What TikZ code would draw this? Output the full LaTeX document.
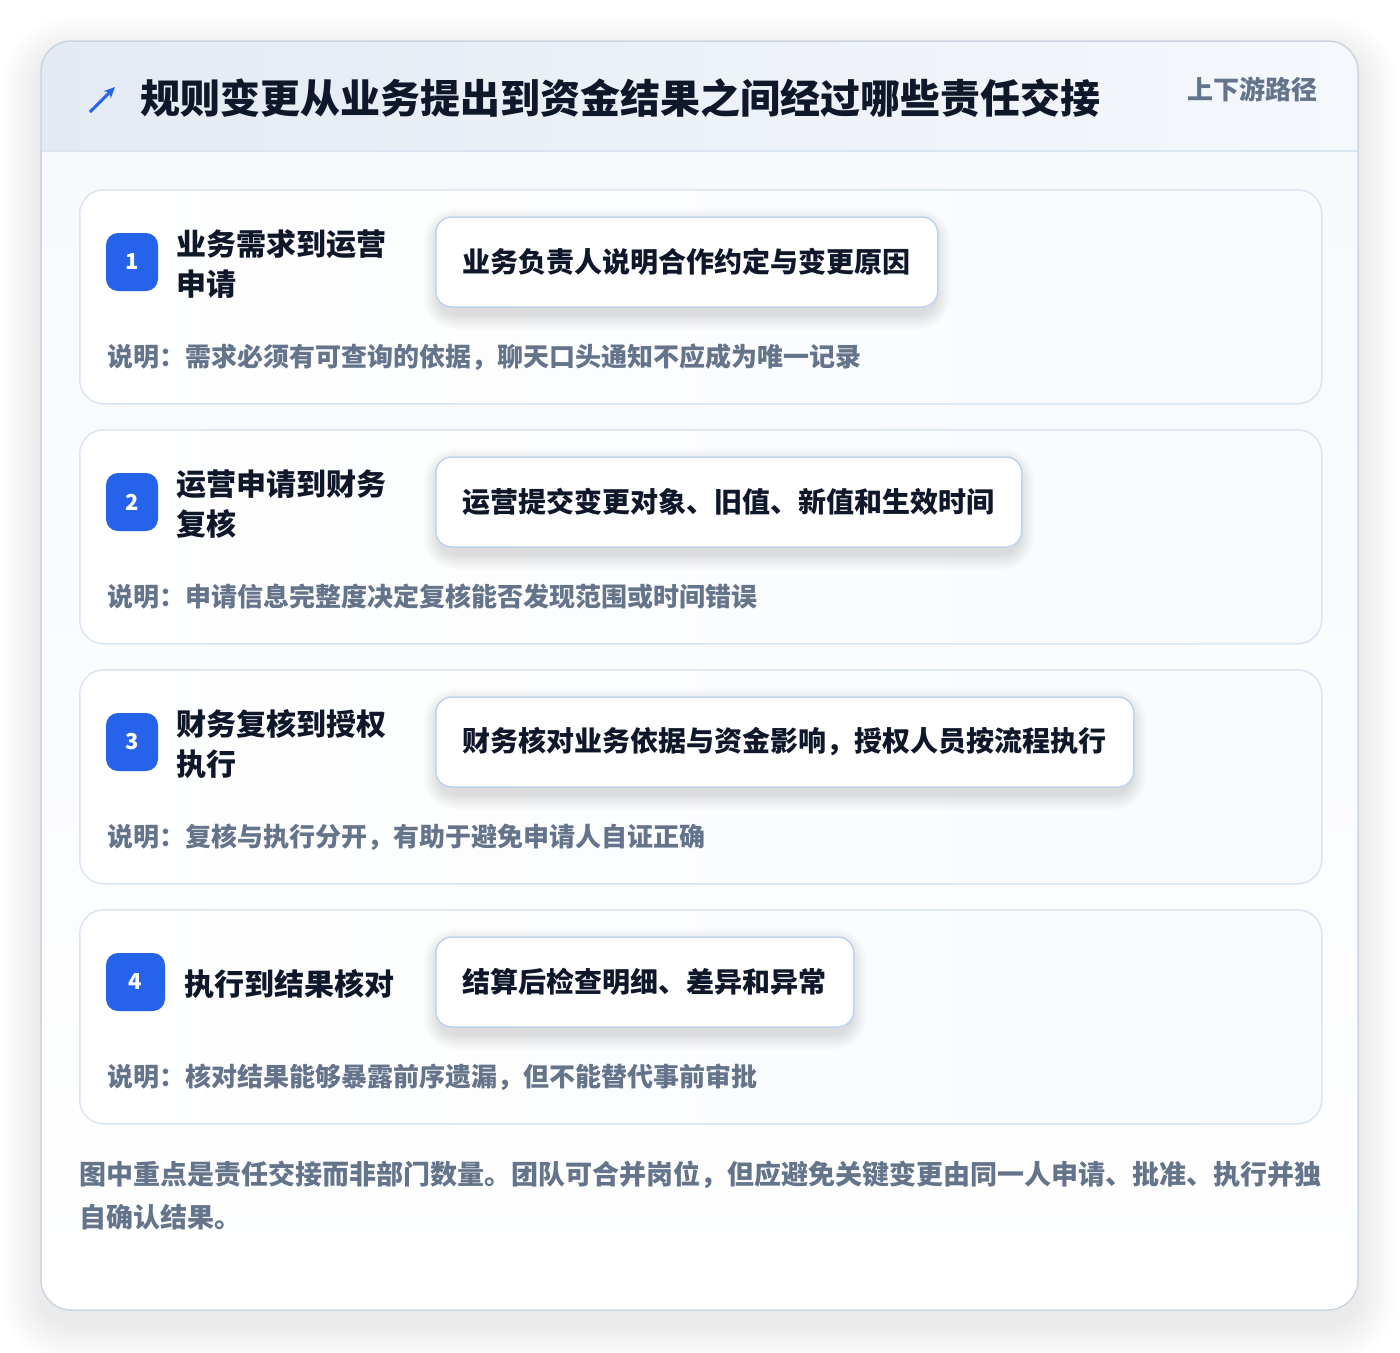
\documentclass[tikz,border=0pt]{standalone}
\usepackage{fontspec}
\setmainfont{Noto Sans CJK SC}
\usetikzlibrary{arrows.meta}
\pgfdeclarelayer{bg}
\pgfdeclarelayer{shad}
\pgfsetlayers{bg,shad,main}
\definecolor{brandblue}{HTML}{2563EB}
\definecolor{titleink}{HTML}{0F172A}
\definecolor{mutedink}{HTML}{64748B}
\definecolor{cardline}{HTML}{DBE5F1}
\definecolor{boxline}{HTML}{BFD3EE}
\definecolor{outerline}{HTML}{CBD5E1}
\definecolor{hdrL}{HTML}{E4EAF3}
\definecolor{hdrR}{HTML}{F5F8FC}
\definecolor{bodyT}{HTML}{F7F9FC}
\definecolor{cardR}{HTML}{F8FAFD}
\definecolor{shadowink}{HTML}{1E293B}
\tikzset{
  stepcard/.style={draw=cardline, line width=1.5pt, rounded corners=24pt, left color=white, right color=cardR,
    minimum width=1242pt, minimum height=214pt, inner sep=0pt, anchor=north west},
  badge/.style={fill=brandblue, rounded corners=12pt, minimum width=52pt, minimum height=58pt, inner sep=0pt,
    text=white, font=\bfseries\fontsize{22}{26}\selectfont},
  steptitle/.style={anchor=west, align=left, inner sep=0pt, text=titleink, font=\bfseries\fontsize{30}{40}\selectfont},
  inbox/.style={anchor=west, draw=boxline, line width=1.5pt, fill=white, rounded corners=16pt,
    minimum height=90pt, inner xsep=27pt, inner ysep=0pt, text=titleink, font=\bfseries\fontsize{28}{34}\selectfont},
  notetext/.style={anchor=west, inner sep=0pt, text=mutedink, font=\bfseries\fontsize{26}{32}\selectfont},
  foottext/.style={anchor=west, inner sep=0pt, text=mutedink, font=\bfseries\fontsize{27}{34}\selectfont},
  softlayer/.style={fill=shadowink, fill opacity=0.007, draw=none},
}
\newcommand{\boxshadow}[1]{%
  \begin{pgfonlayer}{shad}
  \foreach \r in {1,2,...,16}{
    \fill[softlayer, fill opacity=0.006, rounded corners=16pt+\r pt]
      ([shift={(-\r pt+4pt,\r pt-8pt)}]#1.north west) rectangle ([shift={(\r pt-4pt,-\r pt-6pt)}]#1.south east);
  }
  \end{pgfonlayer}}
\begin{document}
\begin{tikzpicture}[x=1pt,y=-1pt]
\useasboundingbox (0,0) rectangle (1400,1352);
\begin{pgfonlayer}{bg}
\fill[white] (0,0) rectangle (1400,1352);
% outer card soft shadow
\foreach \r in {2,4,...,40}{
  \fill[softlayer, fill opacity=0.0035, rounded corners=30pt+\r pt] (41-\r,56-\r) rectangle (1358+\r,1324+\r);
}
\fill[white, rounded corners=30pt] (41,41) rectangle (1358,1310);
\begin{scope}
  \clip[rounded corners=30pt] (41,41) rectangle (1358,1310);
  \shade[left color=hdrL, right color=hdrR] (41,41) rectangle (1358,151);
  \shade[top color=bodyT, bottom color=white] (41,151) rectangle (1358,1310);
\end{scope}
\draw[cardline, line width=1.5pt] (41,151) -- (1358,151);
\draw[outerline, line width=1.5pt, rounded corners=30pt] (41,41) rectangle (1358,1310);
% step cards
\node[stepcard] (c1) at (79,189) {};
\node[stepcard] (c2) at (79,429) {};
\node[stepcard] (c3) at (79,669) {};
\node[stepcard] (c4) at (79,909) {};
\end{pgfonlayer}
% header
\coordinate (arrA) at (90,112);
\coordinate (arrB) at (115,87);
\draw[brandblue, line width=3pt, -{Stealth[length=11pt,width=10pt]}] (arrA) -- (arrB);
\node[anchor=west, inner sep=0pt, text=titleink, font=\bfseries\fontsize{40}{48}\selectfont] (title) at (140,98)
  {规则变更从业务提出到资金结果之间经过哪些责任交接};
\node[anchor=east, inner sep=0pt, text=mutedink, font=\bfseries\fontsize{26}{32}\selectfont] (tag) at (1318,89)
  {上下游路径};
% step 1
\node[badge] (b1) at (132,262) {1};
\node[steptitle] (t1) at (176,264) {业务需求到运营\\申请};
\node[inbox] (i1) at (435,262) {业务负责人说明合作约定与变更原因};
\boxshadow{i1}
\node[notetext] (n1) at (107,357) {说明：需求必须有可查询的依据，聊天口头通知不应成为唯一记录};
% step 2
\node[badge] (b2) at (132,502) {2};
\node[steptitle] (t2) at (176,504) {运营申请到财务\\复核};
\node[inbox] (i2) at (435,502) {运营提交变更对象、旧值、新值和生效时间};
\boxshadow{i2}
\node[notetext] (n2) at (107,597) {说明：申请信息完整度决定复核能否发现范围或时间错误};
% step 3
\node[badge] (b3) at (132,742) {3};
\node[steptitle] (t3) at (176,744) {财务复核到授权\\执行};
\node[inbox] (i3) at (435,742) {财务核对业务依据与资金影响，授权人员按流程执行};
\boxshadow{i3}
\node[notetext] (n3) at (107,837) {说明：复核与执行分开，有助于避免申请人自证正确};
% step 4
\node[badge, minimum width=59pt] (b4) at (135.5,982) {4};
\node[steptitle] (t4) at (184,984) {执行到结果核对};
\node[inbox] (i4) at (435,982) {结算后检查明细、差异和异常};
\boxshadow{i4}
\node[notetext] (n4) at (107,1077) {说明：核对结果能够暴露前序遗漏，但不能替代事前审批};
% footer
\node[foottext] (f1) at (79,1175) {图中重点是责任交接而非部门数量。团队可合并岗位，但应避免关键变更由同一人申请、批准、执行并独};
\node[foottext] (f2) at (79,1217) {自确认结果。};
\end{tikzpicture}
\end{document}
